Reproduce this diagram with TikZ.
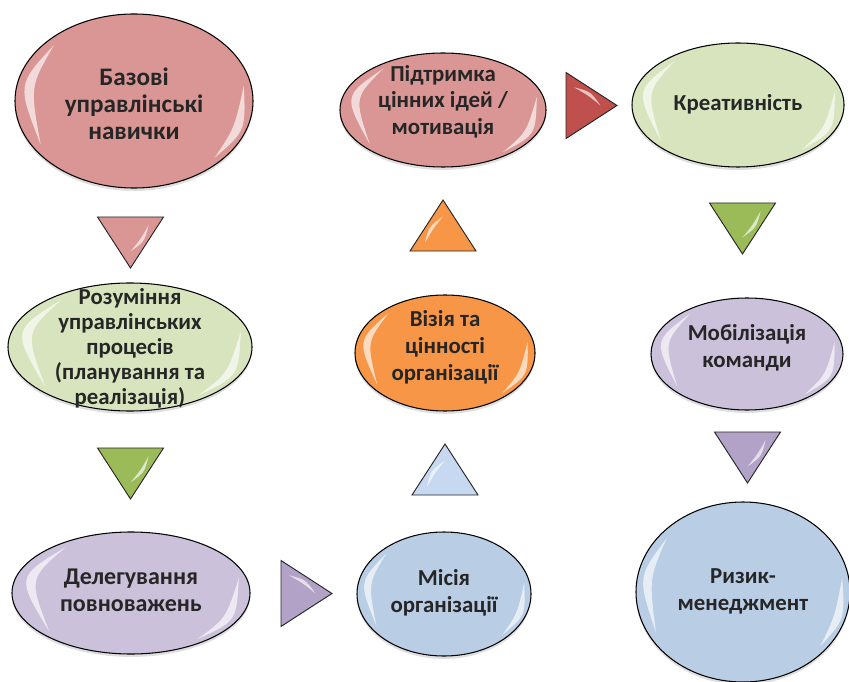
\documentclass[tikz,border=0pt]{standalone}
\usepackage{fontspec}
\setmainfont{Carlito}[BoldFont={* Bold}]
\usetikzlibrary{shapes.geometric,shadows,calc}

\definecolor{pinkE}{HTML}{D99694}
\definecolor{greenE}{HTML}{D7E4BD}
\definecolor{orangeE}{HTML}{F79646}
\definecolor{lilacE}{HTML}{CCC1DA}
\definecolor{blueE}{HTML}{B9CDE5}
\definecolor{redT}{HTML}{C0504D}
\definecolor{greenT}{HTML}{9BBB59}
\definecolor{lilacT}{HTML}{B3A2C7}
\definecolor{blueT}{HTML}{C6D9F1}

% text of an oval, kept out of the oval's size; optional: how far to lower it
\newcommand{\etxt}[2][0pt]{\smash{\makebox[0pt]{\raisebox{\dimexpr-.25em-#1\relax}{\begin{tabular}{@{}c@{}}#2\end{tabular}}}}}

\tikzset{
	oval/.style={ellipse, draw=black, line width=0.9pt, inner sep=0pt, outer sep=0pt,
		font=\fontsize{19.5}{23}\selectfont\bfseries, text=black!85,
		drop shadow={opacity=.25, shadow xshift=0pt, shadow yshift=-2.5pt}},
	big/.style={font=\fontsize{21.5}{23}\selectfont\bfseries},
	tri/.style={isosceles triangle, isosceles triangle stretches, minimum width=1.98cm,
		minimum height=1.53cm, inner sep=0pt, outer sep=0pt, anchor=apex,
		draw=black!85, line width=0.8pt},
	gloss/.style={white, opacity=.65}
}

\begin{document}
\begin{tikzpicture}[x=0.03cm, y=-0.03cm]
		\useasboundingbox (0,0) rectangle (849,682);

		\node[oval, big, fill=pinkE, minimum width=7.14cm, minimum height=5.22cm] (skills) at (134,101) {\etxt[5pt]{Базові\\управлінські\\навички}};
		\node[oval, fill=pinkE, minimum width=6.18cm, minimum height=3.42cm] (ideas) at (443,110) {\etxt[-6pt]{Підтримка\\цінних ідей /\\мотивація}};
		\node[oval, fill=greenE, minimum width=6.36cm, minimum height=3.72cm] (creat) at (738,105) {\etxt{Креативність}};
		\node[oval, fill=greenE, minimum width=7.32cm, minimum height=3.84cm] (process) at (130,347) {\renewcommand{\arraystretch}{.93}\etxt[2.5pt]{Розуміння\\управлінських\\процесів\\(планування та\\реалізація)}};
		\node[oval, fill=orangeE, minimum width=5.4cm, minimum height=3.48cm] (vision) at (445,353) {\etxt[-4pt]{Візія та\\цінності\\організації}};
		\node[oval, fill=lilacE, minimum width=5.76cm, minimum height=3.36cm] (team) at (747,354) {\etxt[-4pt]{Мобілізація\\команди}};
		\node[oval, fill=lilacE, font=\fontsize{20.5}{23}\selectfont\bfseries, minimum width=7.14cm, minimum height=3.66cm] (deleg) at (131,593) {\etxt{Делегування\\повноважень}};
		\node[oval, fill=blueE, minimum width=5.22cm, minimum height=3.72cm] (mission) at (444,594) {\etxt{Місія\\організації}};
		\node[oval, fill=blueE, minimum width=6.42cm, minimum height=5.4cm] (risk) at (743,592) {\etxt{Ризик-\\менеджмент}};

		\foreach \n in {skills, ideas, creat, process, vision, team, deleg, mission, risk} {
			\fill[gloss] ($(\n.center)!.93!(\n.145)$) .. controls ($(\n.center)!1.0!(\n.172)$) .. ($(\n.center)!.93!(\n.205)$)
				.. controls ($(\n.center)!.89!(\n.172)$) .. ($(\n.center)!.93!(\n.145)$);
			\fill[gloss] ($(\n.center)!.94!(\n.325)$) .. controls ($(\n.center)!1.0!(\n.345)$) .. ($(\n.center)!.94!(\n.8)$)
				.. controls ($(\n.center)!.9!(\n.345)$) .. ($(\n.center)!.94!(\n.325)$);
		}

		\foreach \t/\x/\y/\r/\c in {t1/130.5/268/-90/pinkE, t2/130.5/499/-90/greenT, t3/332/593.5/0/lilacT,
			t4/445/444/90/blueT, t5/443/200/90/orangeE, t6/617/105.5/0/redT,
			t7/742.5/254/-90/greenT, t8/747.5/483/-90/lilacT} {
			\node[tri, rotate=\r, fill=\c] (\t) at (\x,\y) {};
			\fill[gloss] ($(\t.center)!.55!(\t.left corner)$) .. controls ($(\t.left side)!.15!(\t.center)$) .. ($(\t.center)!.5!(\t.apex)$)
				.. controls ($(\t.left side)!.4!(\t.center)$) .. ($(\t.center)!.55!(\t.left corner)$);
		}
	\end{tikzpicture}
\end{document}
